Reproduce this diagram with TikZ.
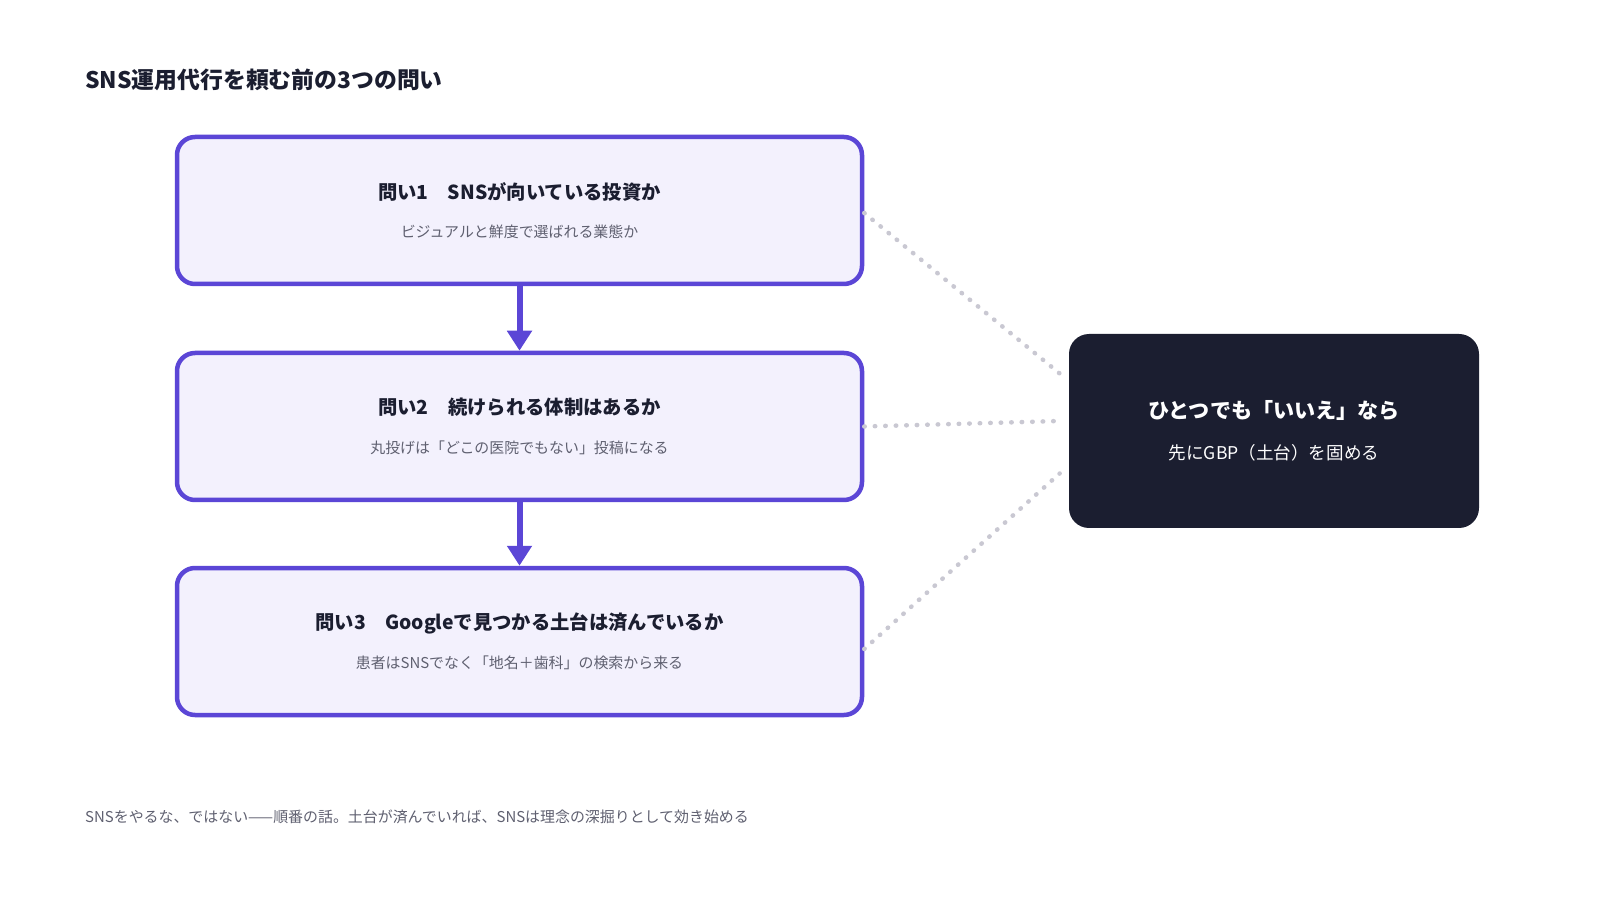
\documentclass[tikz,border=0pt]{standalone}
\usepackage{fontspec}
\setmainfont{Noto Sans CJK JP}
\usetikzlibrary{arrows.meta, positioning, calc}
\definecolor{qpurple}{HTML}{5B46D6}
\definecolor{qfill}{HTML}{F3F1FD}
\definecolor{qdark}{HTML}{1B1E30}
\definecolor{qdot}{HTML}{C9C8D2}
\definecolor{qtext}{HTML}{1B1E30}
\definecolor{qsub}{HTML}{5F6070}

\tikzset{
  qbox/.style={draw=qpurple, line width=0.09cm, fill=qfill, rounded corners=0.36cm,
    minimum width=13.7cm, minimum height=2.94cm, align=center, text=qtext},
  resbox/.style={fill=qdark, rounded corners=0.4cm, minimum width=8.2cm,
    minimum height=3.88cm, align=center, text=white},
  flow/.style={draw=qpurple, line width=0.12cm, -{Triangle[length=0.4cm, width=0.48cm]}},
  link/.style={draw=qdot, line width=0.09cm, dash pattern=on 0.01cm off 0.2cm, line cap=round}
}

\begin{document}
\begin{tikzpicture}
\useasboundingbox (0,0) rectangle (32,18);
% Title
\node[anchor=west, font=\fontsize{13}{15}\selectfont\bfseries, text=qtext] (title) at (1.58,16.4) {SNS運用代行を頼む前の3つの問い};

% Questions
\node[qbox] (q1) at (10.39,13.79) {{\fontsize{11}{13}\selectfont\bfseries 問い1\quad SNSが向いている投資か}\\[0.35cm]
  {\fontsize{8.5}{10}\selectfont\color{qsub} ビジュアルと鮮度で選ばれる業態か}};
\node[qbox] (q2) at (10.39,9.47) {{\fontsize{11}{13}\selectfont\bfseries 問い2\quad 続けられる体制はあるか}\\[0.35cm]
  {\fontsize{8.5}{10}\selectfont\color{qsub} 丸投げは「どこの医院でもない」投稿になる}};
\node[qbox] (q3) at (10.39,5.17) {{\fontsize{11}{13}\selectfont\bfseries 問い3\quad Googleで見つかる土台は済んでいるか}\\[0.35cm]
  {\fontsize{8.5}{10}\selectfont\color{qsub} 患者はSNSでなく「地名＋歯科」の検索から来る}};

% Result
\node[resbox] (res) at (25.48,9.38) {{\fontsize{12}{14}\selectfont\bfseries ひとつでも「いいえ」なら}\\[0.4cm]
  {\fontsize{10}{12}\selectfont 先にGBP（土台）を固める}};

% Flow arrows
\draw[flow] (q1.south) -- (q2.north);
\draw[flow] (q2.south) -- (q3.north);

% Dotted links
\coordinate (r1) at ($(res.west)+(-0.18,1.15)$);
\coordinate (r2) at ($(res.west)+(-0.18,0.2)$);
\coordinate (r3) at ($(res.west)+(-0.18,-0.85)$);
\draw[link] ($(q1.east)+(0,-0.05)$) -- (r1);
\draw[link] ($(q2.east)+(0,0)$) -- (r2);
\draw[link] ($(q3.east)+(0,-0.15)$) -- (r3);

% Footer
\node[anchor=west, font=\fontsize{8.5}{10}\selectfont, text=qsub] (foot) at (1.58,1.66) {SNSをやるな、ではない——順番の話。土台が済んでいれば、SNSは理念の深掘りとして効き始める};
\end{tikzpicture}
\end{document}
